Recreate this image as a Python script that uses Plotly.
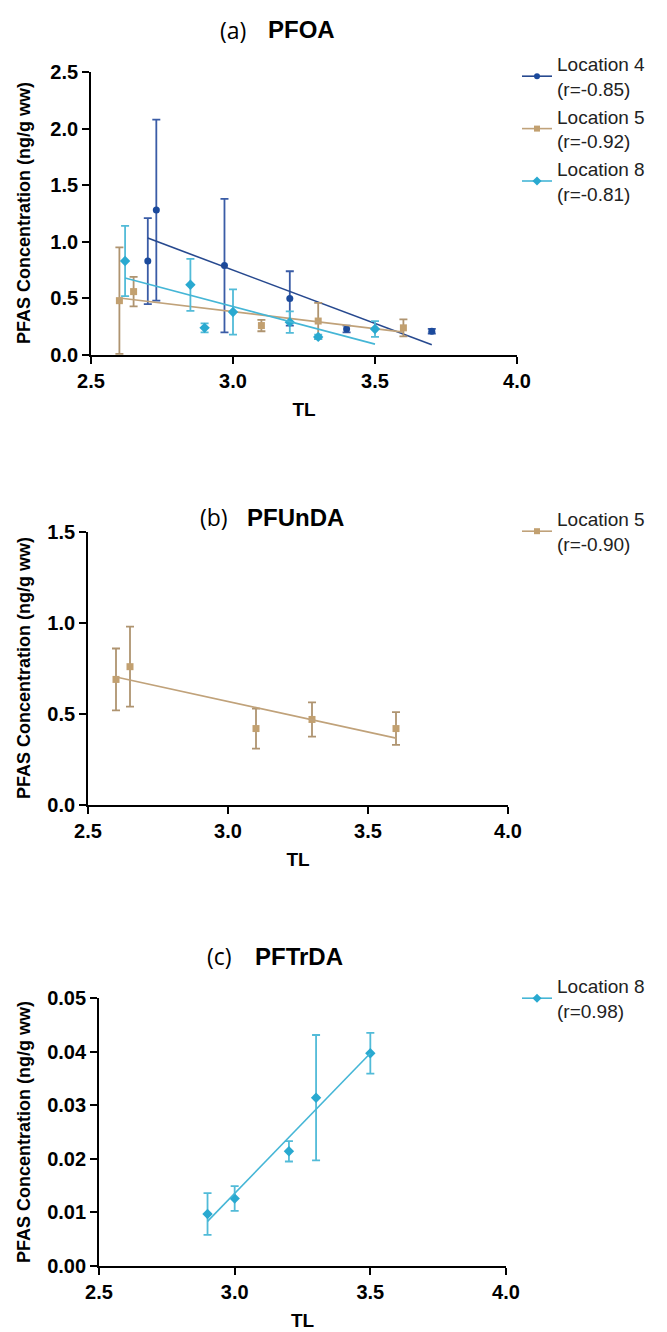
import numpy as np
import plotly.graph_objects as go

# ---- (a) PFOA : mean +/- SD against trophic level ----
pfoa_loc4_tl = [2.70, 2.73, 2.97, 3.20, 3.40, 3.70]
pfoa_loc4_mean = [0.83, 1.28, 0.79, 0.50, 0.23, 0.21]
pfoa_loc4_err = [0.38, 0.80, 0.59, 0.24, 0.03, 0.02]

pfoa_loc5_tl = [2.60, 2.65, 3.10, 3.30, 3.60]
pfoa_loc5_mean = [0.48, 0.56, 0.26, 0.30, 0.24]
pfoa_loc5_err = [0.47, 0.13, 0.05, 0.16, 0.075]

pfoa_loc8_tl = [2.62, 2.85, 2.90, 3.00, 3.20, 3.30, 3.50]
pfoa_loc8_mean = [0.83, 0.62, 0.24, 0.38, 0.29, 0.16, 0.23]
pfoa_loc8_err = [0.31, 0.23, 0.04, 0.20, 0.095, 0.02, 0.07]

# ---- (b) PFUnDA ----
pfunda_loc5_tl = [2.60, 2.65, 3.10, 3.30, 3.60]
pfunda_loc5_mean = [0.69, 0.76, 0.42, 0.47, 0.42]
pfunda_loc5_err = [0.17, 0.22, 0.11, 0.094, 0.09]

# ---- (c) PFTrDA ----
pftrda_loc8_tl = [2.90, 3.00, 3.20, 3.30, 3.50]
pftrda_loc8_mean = [0.0097, 0.0126, 0.0214, 0.0314, 0.0397]
pftrda_loc8_err = [0.0039, 0.0023, 0.0019, 0.0117, 0.0038]

# legend labels with correlation coefficients
label_a = ["Location 4<br>(r=-0.85)", "Location 5<br>(r=-0.92)", "Location 8<br>(r=-0.81)"]
label_b = ["Location 5<br>(r=-0.90)"]
label_c = ["Location 8<br>(r=0.98)"]

panel_titles = [("(a)", "PFOA"), ("(b)", "PFUnDA"), ("(c)", "PFTrDA")]
y_title = "PFAS Concentration (ng/g ww)"
x_title = "TL"

x_ticks = [2.5, 3.0, 3.5, 4.0]
y_ticks_a = [0.0, 0.5, 1.0, 1.5, 2.0, 2.5]
y_ticks_b = [0.0, 0.5, 1.0, 1.5]
y_ticks_c = [0.00, 0.01, 0.02, 0.03, 0.04, 0.05]

# colours per location: (marker, error bar, fit line)
STYLE = {
    "loc4": dict(marker="#1b4a9c", err="#3a5ca6", line="#27498f", symbol="circle", size=7),
    "loc5": dict(marker="#c2a070", err="#af9470", line="#c0a27a", symbol="square", size=7),
    "loc8": dict(marker="#29a9d0", err="#52bbd8", line="#45b6d6", symbol="diamond", size=8),
}

FONT = "Liberation Sans, Arial, sans-serif"
fig = go.Figure()


def add_series(tl, mean, err, key, label, ax, legend):
    st = STYLE[key]
    xa, ya = ax
    # measured means with SD whiskers
    fig.add_trace(go.Scatter(
        x=tl, y=mean, mode="markers", xaxis=xa, yaxis=ya, showlegend=False,
        marker=dict(color=st["marker"], symbol=st["symbol"], size=st["size"]),
        error_y=dict(type="data", array=err, visible=True, color=st["err"],
                     thickness=1.8, width=4),
    ))
    # least-squares regression across the sampled TL range
    slope, icpt = np.polyfit(tl, mean, 1)
    xs = np.array([min(tl), max(tl)])
    fig.add_trace(go.Scatter(
        x=xs, y=slope * xs + icpt, mode="lines", xaxis=xa, yaxis=ya,
        showlegend=False, line=dict(color=st["line"], width=1.6),
    ))
    # legend entry (line with marker)
    fig.add_trace(go.Scatter(
        x=[None], y=[None], mode="lines+markers", xaxis=xa, yaxis=ya,
        name=label, legend=legend,
        line=dict(color=st["line"], width=1.6),
        marker=dict(color=st["marker"], symbol=st["symbol"], size=st["size"] - 1),
    ))


add_series(pfoa_loc4_tl, pfoa_loc4_mean, pfoa_loc4_err, "loc4", label_a[0], ("x", "y"), "legend")
add_series(pfoa_loc5_tl, pfoa_loc5_mean, pfoa_loc5_err, "loc5", label_a[1], ("x", "y"), "legend")
add_series(pfoa_loc8_tl, pfoa_loc8_mean, pfoa_loc8_err, "loc8", label_a[2], ("x", "y"), "legend")
add_series(pfunda_loc5_tl, pfunda_loc5_mean, pfunda_loc5_err, "loc5", label_b[0], ("x2", "y2"), "legend2")
add_series(pftrda_loc8_tl, pftrda_loc8_mean, pftrda_loc8_err, "loc8", label_c[0], ("x3", "y3"), "legend3")

W, H = 667, 1332


def px_x(p):
    return p / W


def px_y(p):
    return 1 - p / H


def xaxis(dom, anchor):
    return dict(
        domain=dom, anchor=anchor, range=[2.5, 4.0], tickvals=x_ticks,
        ticktext=[f"{v:.1f}" for v in x_ticks],
        showline=True, linecolor="black", linewidth=1.8, ticks="outside",
        ticklen=7, tickwidth=1.6, tickcolor="black", showgrid=False, zeroline=False,
        tickfont=dict(family=FONT, size=20, color="black", weight="bold"),
        title=dict(text=f"<b>{x_title}</b>", font=dict(family=FONT, size=19, color="black"),
                   standoff=12),
        automargin=False,
    )


def yaxis(dom, anchor, ticks, fmt, rng):
    return dict(
        domain=dom, anchor=anchor, range=rng, tickvals=ticks,
        ticktext=[fmt.format(v) for v in ticks],
        showline=True, linecolor="black", linewidth=1.8, ticks="outside",
        ticklen=7, tickwidth=1.6, tickcolor="black", showgrid=False, zeroline=False,
        tickfont=dict(family=FONT, size=20, color="black", weight="bold"),
        automargin=False,
    )


fig.update_layout(
    width=W, height=H, margin=dict(l=0, r=0, t=0, b=0),
    paper_bgcolor="white", plot_bgcolor="white",
    font=dict(family=FONT, color="black"),
    xaxis=xaxis([px_x(91), px_x(517)], "y"),
    yaxis=yaxis([px_y(355), px_y(72)], "x", y_ticks_a, "{:.1f}", [0, 2.5]),
    xaxis2=xaxis([px_x(88), px_x(508)], "y2"),
    yaxis2=yaxis([px_y(805), px_y(532)], "x2", y_ticks_b, "{:.1f}", [0, 1.5]),
    xaxis3=xaxis([px_x(99), px_x(506)], "y3"),
    yaxis3=yaxis([px_y(1266), px_y(998)], "x3", y_ticks_c, "{:.2f}", [0, 0.05]),
)

# vertical axis titles placed at a common left position
for mid in (213, 668, 1132):
    fig.add_annotation(
        x=px_x(24), y=px_y(mid), xref="paper", yref="paper",
        text=f"<b>{y_title}</b>", textangle=-90, showarrow=False,
        xanchor="center", yanchor="middle",
        font=dict(family=FONT, size=18, color="black"),
    )

leg_common = dict(
    xanchor="left", yanchor="top", bgcolor="rgba(0,0,0,0)",
    font=dict(family=FONT, size=19, color="#222"), tracegroupgap=0,
    itemwidth=30,
)
fig.update_layout(
    legend=dict(x=px_x(517), y=px_y(45), **leg_common),
    legend2=dict(x=px_x(517), y=px_y(500), **leg_common),
    legend3=dict(x=px_x(517), y=px_y(967), **leg_common),
)

# panel headings: light label letter followed by bold compound name
# (row y, right edge of letter, left edge of name)
title_rows = [(30, 248, 266), (517, 230, 245), (956, 234, 253)]
for (letter, name), (ty, lx, nx) in zip(panel_titles, title_rows):
    fig.add_annotation(
        x=px_x(lx), y=px_y(ty), xref="paper", yref="paper",
        text=letter, showarrow=False, xanchor="right", yanchor="middle",
        font=dict(family="Open Sans, Liberation Sans", size=23, color="black"),
    )
    fig.add_annotation(
        x=px_x(nx), y=px_y(ty), xref="paper", yref="paper",
        text=f"<b>{name}</b>", showarrow=False, xanchor="left", yanchor="middle",
        font=dict(family=FONT, size=24, color="black"),
    )

fig.write_html("out.html")
